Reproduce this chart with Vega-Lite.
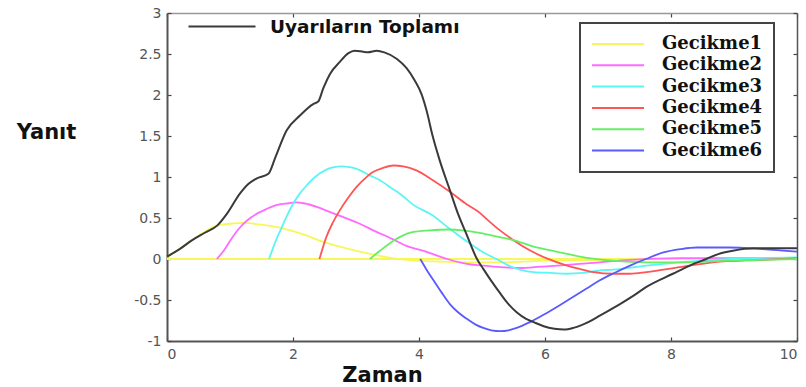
{
  "$schema": "https://vega.github.io/schema/vega-lite/v6.json",
  "width": 630,
  "height": 328,
  "autosize": {"type": "none"},
  "padding": {"left": 167, "top": 13, "right": 9, "bottom": 46},
  "background": "white",
  "config": {
    "view": {"stroke": null},
    "axis": {"grid": false, "labelFont": "DejaVu Sans", "labelFontSize": 14, "labelColor": "#555", "domainColor": "#555", "domainWidth": 2, "tickColor": "#444", "tickWidth": 1.2, "tickSize": -4, "labelPadding": 10},
    "legend": {"strokeWidth": 2},
    "line": {"interpolate": "monotone"}
  },
  "datasets": {
    "d": [
      {"s": "taban", "t": 0, "y": 0}, {"s": "taban", "t": 10, "y": 0},

      {"s": "Gecikme1", "t": 0, "y": 0.02}, {"s": "Gecikme1", "t": 0.4, "y": 0.23}, {"s": "Gecikme1", "t": 0.8, "y": 0.41}, {"s": "Gecikme1", "t": 1.0, "y": 0.43}, {"s": "Gecikme1", "t": 1.21, "y": 0.44}, {"s": "Gecikme1", "t": 1.48, "y": 0.42}, {"s": "Gecikme1", "t": 1.75, "y": 0.39}, {"s": "Gecikme1", "t": 2.0, "y": 0.34}, {"s": "Gecikme1", "t": 2.2, "y": 0.29}, {"s": "Gecikme1", "t": 2.4, "y": 0.23}, {"s": "Gecikme1", "t": 2.7, "y": 0.16}, {"s": "Gecikme1", "t": 3.06, "y": 0.09}, {"s": "Gecikme1", "t": 3.3, "y": 0.05}, {"s": "Gecikme1", "t": 3.5, "y": 0.02}, {"s": "Gecikme1", "t": 3.8, "y": -0.01}, {"s": "Gecikme1", "t": 4.2, "y": -0.03}, {"s": "Gecikme1", "t": 4.8, "y": -0.04}, {"s": "Gecikme1", "t": 5.4, "y": -0.04}, {"s": "Gecikme1", "t": 6.0, "y": -0.02}, {"s": "Gecikme1", "t": 7.0, "y": -0.01}, {"s": "Gecikme1", "t": 8.0, "y": 0}, {"s": "Gecikme1", "t": 10, "y": 0},

      {"s": "Gecikme2", "t": 0.79, "y": 0}, {"s": "Gecikme2", "t": 0.9, "y": 0.1}, {"s": "Gecikme2", "t": 1.0, "y": 0.22}, {"s": "Gecikme2", "t": 1.13, "y": 0.36}, {"s": "Gecikme2", "t": 1.27, "y": 0.47}, {"s": "Gecikme2", "t": 1.42, "y": 0.55}, {"s": "Gecikme2", "t": 1.58, "y": 0.61}, {"s": "Gecikme2", "t": 1.75, "y": 0.66}, {"s": "Gecikme2", "t": 1.93, "y": 0.68}, {"s": "Gecikme2", "t": 2.05, "y": 0.69}, {"s": "Gecikme2", "t": 2.17, "y": 0.68}, {"s": "Gecikme2", "t": 2.4, "y": 0.63}, {"s": "Gecikme2", "t": 2.53, "y": 0.59}, {"s": "Gecikme2", "t": 2.8, "y": 0.51}, {"s": "Gecikme2", "t": 3.06, "y": 0.43}, {"s": "Gecikme2", "t": 3.3, "y": 0.34}, {"s": "Gecikme2", "t": 3.59, "y": 0.24}, {"s": "Gecikme2", "t": 3.8, "y": 0.16}, {"s": "Gecikme2", "t": 4.02, "y": 0.11}, {"s": "Gecikme2", "t": 4.22, "y": 0.06}, {"s": "Gecikme2", "t": 4.45, "y": 0.0}, {"s": "Gecikme2", "t": 4.76, "y": -0.06}, {"s": "Gecikme2", "t": 5.0, "y": -0.08}, {"s": "Gecikme2", "t": 5.29, "y": -0.1}, {"s": "Gecikme2", "t": 5.65, "y": -0.11}, {"s": "Gecikme2", "t": 5.82, "y": -0.1}, {"s": "Gecikme2", "t": 6.2, "y": -0.08}, {"s": "Gecikme2", "t": 6.55, "y": -0.06}, {"s": "Gecikme2", "t": 6.87, "y": -0.04}, {"s": "Gecikme2", "t": 7.35, "y": -0.01}, {"s": "Gecikme2", "t": 8.14, "y": 0.01}, {"s": "Gecikme2", "t": 10, "y": 0.01},

      {"s": "Gecikme3", "t": 1.62, "y": 0}, {"s": "Gecikme3", "t": 1.7, "y": 0.17}, {"s": "Gecikme3", "t": 1.8, "y": 0.35}, {"s": "Gecikme3", "t": 1.9, "y": 0.52}, {"s": "Gecikme3", "t": 2.0, "y": 0.67}, {"s": "Gecikme3", "t": 2.11, "y": 0.8}, {"s": "Gecikme3", "t": 2.22, "y": 0.9}, {"s": "Gecikme3", "t": 2.35, "y": 1.0}, {"s": "Gecikme3", "t": 2.53, "y": 1.09}, {"s": "Gecikme3", "t": 2.65, "y": 1.12}, {"s": "Gecikme3", "t": 2.77, "y": 1.13}, {"s": "Gecikme3", "t": 2.9, "y": 1.12}, {"s": "Gecikme3", "t": 3.01, "y": 1.1}, {"s": "Gecikme3", "t": 3.22, "y": 1.02}, {"s": "Gecikme3", "t": 3.38, "y": 0.96}, {"s": "Gecikme3", "t": 3.59, "y": 0.85}, {"s": "Gecikme3", "t": 3.69, "y": 0.8}, {"s": "Gecikme3", "t": 3.91, "y": 0.66}, {"s": "Gecikme3", "t": 4.22, "y": 0.53}, {"s": "Gecikme3", "t": 4.45, "y": 0.39}, {"s": "Gecikme3", "t": 4.75, "y": 0.22}, {"s": "Gecikme3", "t": 4.96, "y": 0.11}, {"s": "Gecikme3", "t": 5.07, "y": 0.06}, {"s": "Gecikme3", "t": 5.23, "y": 0.0}, {"s": "Gecikme3", "t": 5.45, "y": -0.09}, {"s": "Gecikme3", "t": 5.82, "y": -0.16}, {"s": "Gecikme3", "t": 6.1, "y": -0.17}, {"s": "Gecikme3", "t": 6.35, "y": -0.18}, {"s": "Gecikme3", "t": 6.6, "y": -0.17}, {"s": "Gecikme3", "t": 6.87, "y": -0.14}, {"s": "Gecikme3", "t": 7.08, "y": -0.13}, {"s": "Gecikme3", "t": 7.61, "y": -0.08}, {"s": "Gecikme3", "t": 8.14, "y": -0.04}, {"s": "Gecikme3", "t": 8.93, "y": 0.0}, {"s": "Gecikme3", "t": 10, "y": 0.02},

      {"s": "Gecikme4", "t": 2.42, "y": 0}, {"s": "Gecikme4", "t": 2.53, "y": 0.27}, {"s": "Gecikme4", "t": 2.63, "y": 0.44}, {"s": "Gecikme4", "t": 2.74, "y": 0.59}, {"s": "Gecikme4", "t": 2.87, "y": 0.74}, {"s": "Gecikme4", "t": 3.01, "y": 0.88}, {"s": "Gecikme4", "t": 3.14, "y": 0.98}, {"s": "Gecikme4", "t": 3.27, "y": 1.06}, {"s": "Gecikme4", "t": 3.43, "y": 1.11}, {"s": "Gecikme4", "t": 3.59, "y": 1.14}, {"s": "Gecikme4", "t": 3.75, "y": 1.13}, {"s": "Gecikme4", "t": 3.96, "y": 1.08}, {"s": "Gecikme4", "t": 4.22, "y": 0.96}, {"s": "Gecikme4", "t": 4.49, "y": 0.82}, {"s": "Gecikme4", "t": 4.75, "y": 0.67}, {"s": "Gecikme4", "t": 4.97, "y": 0.56}, {"s": "Gecikme4", "t": 5.07, "y": 0.49}, {"s": "Gecikme4", "t": 5.25, "y": 0.37}, {"s": "Gecikme4", "t": 5.5, "y": 0.23}, {"s": "Gecikme4", "t": 5.75, "y": 0.11}, {"s": "Gecikme4", "t": 6.02, "y": 0.01}, {"s": "Gecikme4", "t": 6.35, "y": -0.08}, {"s": "Gecikme4", "t": 6.55, "y": -0.12}, {"s": "Gecikme4", "t": 6.77, "y": -0.16}, {"s": "Gecikme4", "t": 7.08, "y": -0.18}, {"s": "Gecikme4", "t": 7.35, "y": -0.18}, {"s": "Gecikme4", "t": 7.61, "y": -0.16}, {"s": "Gecikme4", "t": 8.14, "y": -0.1}, {"s": "Gecikme4", "t": 8.67, "y": -0.04}, {"s": "Gecikme4", "t": 9.46, "y": -0.01}, {"s": "Gecikme4", "t": 10, "y": 0.01},

      {"s": "Gecikme5", "t": 3.22, "y": 0}, {"s": "Gecikme5", "t": 3.38, "y": 0.1}, {"s": "Gecikme5", "t": 3.59, "y": 0.22}, {"s": "Gecikme5", "t": 3.7, "y": 0.27}, {"s": "Gecikme5", "t": 3.91, "y": 0.33}, {"s": "Gecikme5", "t": 4.17, "y": 0.35}, {"s": "Gecikme5", "t": 4.45, "y": 0.36}, {"s": "Gecikme5", "t": 4.7, "y": 0.35}, {"s": "Gecikme5", "t": 4.96, "y": 0.32}, {"s": "Gecikme5", "t": 5.2, "y": 0.28}, {"s": "Gecikme5", "t": 5.5, "y": 0.23}, {"s": "Gecikme5", "t": 5.82, "y": 0.15}, {"s": "Gecikme5", "t": 6.18, "y": 0.09}, {"s": "Gecikme5", "t": 6.55, "y": 0.03}, {"s": "Gecikme5", "t": 7.08, "y": -0.02}, {"s": "Gecikme5", "t": 7.61, "y": -0.04}, {"s": "Gecikme5", "t": 8.14, "y": -0.04}, {"s": "Gecikme5", "t": 8.93, "y": -0.02}, {"s": "Gecikme5", "t": 10, "y": 0.0},

      {"s": "Gecikme6", "t": 4.02, "y": 0}, {"s": "Gecikme6", "t": 4.12, "y": -0.13}, {"s": "Gecikme6", "t": 4.23, "y": -0.26}, {"s": "Gecikme6", "t": 4.36, "y": -0.41}, {"s": "Gecikme6", "t": 4.49, "y": -0.55}, {"s": "Gecikme6", "t": 4.62, "y": -0.65}, {"s": "Gecikme6", "t": 4.76, "y": -0.73}, {"s": "Gecikme6", "t": 4.9, "y": -0.8}, {"s": "Gecikme6", "t": 5.02, "y": -0.84}, {"s": "Gecikme6", "t": 5.15, "y": -0.87}, {"s": "Gecikme6", "t": 5.29, "y": -0.88}, {"s": "Gecikme6", "t": 5.42, "y": -0.87}, {"s": "Gecikme6", "t": 5.55, "y": -0.84}, {"s": "Gecikme6", "t": 5.76, "y": -0.77}, {"s": "Gecikme6", "t": 6.0, "y": -0.67}, {"s": "Gecikme6", "t": 6.24, "y": -0.56}, {"s": "Gecikme6", "t": 6.45, "y": -0.46}, {"s": "Gecikme6", "t": 6.66, "y": -0.36}, {"s": "Gecikme6", "t": 6.87, "y": -0.26}, {"s": "Gecikme6", "t": 7.1, "y": -0.17}, {"s": "Gecikme6", "t": 7.35, "y": -0.08}, {"s": "Gecikme6", "t": 7.6, "y": 0.0}, {"s": "Gecikme6", "t": 7.88, "y": 0.08}, {"s": "Gecikme6", "t": 8.15, "y": 0.12}, {"s": "Gecikme6", "t": 8.41, "y": 0.14}, {"s": "Gecikme6", "t": 8.93, "y": 0.14}, {"s": "Gecikme6", "t": 9.46, "y": 0.12}, {"s": "Gecikme6", "t": 10, "y": 0.09},

      {"s": "Uyarıların Toplamı", "t": 0, "y": 0.03}, {"s": "Uyarıların Toplamı", "t": 0.2, "y": 0.12}, {"s": "Uyarıların Toplamı", "t": 0.4, "y": 0.23}, {"s": "Uyarıların Toplamı", "t": 0.6, "y": 0.32}, {"s": "Uyarıların Toplamı", "t": 0.8, "y": 0.41}, {"s": "Uyarıların Toplamı", "t": 0.95, "y": 0.55}, {"s": "Uyarıların Toplamı", "t": 1.16, "y": 0.8}, {"s": "Uyarıların Toplamı", "t": 1.3, "y": 0.92}, {"s": "Uyarıların Toplamı", "t": 1.42, "y": 0.98}, {"s": "Uyarıların Toplamı", "t": 1.61, "y": 1.04}, {"s": "Uyarıların Toplamı", "t": 1.72, "y": 1.24}, {"s": "Uyarıların Toplamı", "t": 1.9, "y": 1.57}, {"s": "Uyarıların Toplamı", "t": 2.11, "y": 1.75}, {"s": "Uyarıların Toplamı", "t": 2.32, "y": 1.89}, {"s": "Uyarıların Toplamı", "t": 2.4, "y": 1.92}, {"s": "Uyarıların Toplamı", "t": 2.48, "y": 2.08}, {"s": "Uyarıların Toplamı", "t": 2.59, "y": 2.26}, {"s": "Uyarıların Toplamı", "t": 2.74, "y": 2.4}, {"s": "Uyarıların Toplamı", "t": 2.88, "y": 2.51}, {"s": "Uyarıların Toplamı", "t": 2.98, "y": 2.54}, {"s": "Uyarıların Toplamı", "t": 3.1, "y": 2.53}, {"s": "Uyarıların Toplamı", "t": 3.19, "y": 2.52}, {"s": "Uyarıların Toplamı", "t": 3.33, "y": 2.54}, {"s": "Uyarıların Toplamı", "t": 3.45, "y": 2.52}, {"s": "Uyarıların Toplamı", "t": 3.65, "y": 2.44}, {"s": "Uyarıların Toplamı", "t": 3.8, "y": 2.33}, {"s": "Uyarıların Toplamı", "t": 3.93, "y": 2.18}, {"s": "Uyarıların Toplamı", "t": 4.04, "y": 2.01}, {"s": "Uyarıların Toplamı", "t": 4.12, "y": 1.81}, {"s": "Uyarıların Toplamı", "t": 4.22, "y": 1.49}, {"s": "Uyarıların Toplamı", "t": 4.33, "y": 1.2}, {"s": "Uyarıların Toplamı", "t": 4.49, "y": 0.84}, {"s": "Uyarıların Toplamı", "t": 4.62, "y": 0.55}, {"s": "Uyarıların Toplamı", "t": 4.75, "y": 0.31}, {"s": "Uyarıların Toplamı", "t": 4.92, "y": 0.0}, {"s": "Uyarıların Toplamı", "t": 5.02, "y": -0.12}, {"s": "Uyarıların Toplamı", "t": 5.15, "y": -0.27}, {"s": "Uyarıların Toplamı", "t": 5.29, "y": -0.42}, {"s": "Uyarıların Toplamı", "t": 5.42, "y": -0.55}, {"s": "Uyarıların Toplamı", "t": 5.55, "y": -0.65}, {"s": "Uyarıların Toplamı", "t": 5.7, "y": -0.73}, {"s": "Uyarıların Toplamı", "t": 5.82, "y": -0.77}, {"s": "Uyarıların Toplamı", "t": 5.98, "y": -0.82}, {"s": "Uyarıların Toplamı", "t": 6.15, "y": -0.85}, {"s": "Uyarıların Toplamı", "t": 6.3, "y": -0.86}, {"s": "Uyarıların Toplamı", "t": 6.45, "y": -0.84}, {"s": "Uyarıların Toplamı", "t": 6.71, "y": -0.76}, {"s": "Uyarıların Toplamı", "t": 6.87, "y": -0.69}, {"s": "Uyarıların Toplamı", "t": 7.19, "y": -0.55}, {"s": "Uyarıların Toplamı", "t": 7.4, "y": -0.45}, {"s": "Uyarıların Toplamı", "t": 7.61, "y": -0.34}, {"s": "Uyarıların Toplamı", "t": 8.03, "y": -0.18}, {"s": "Uyarıların Toplamı", "t": 8.3, "y": -0.08}, {"s": "Uyarıların Toplamı", "t": 8.56, "y": 0.0}, {"s": "Uyarıların Toplamı", "t": 8.75, "y": 0.06}, {"s": "Uyarıların Toplamı", "t": 8.98, "y": 0.1}, {"s": "Uyarıların Toplamı", "t": 9.3, "y": 0.13}, {"s": "Uyarıların Toplamı", "t": 9.6, "y": 0.13}, {"s": "Uyarıların Toplamı", "t": 10, "y": 0.13}
    ]
  },
  "data": {"name": "d"},
  "resolve": {"scale": {"color": "independent"}, "axis": {"x": "independent", "y": "independent"}},
  "layer": [
    {
      "transform": [{"filter": "datum.s === 'taban'"}],
      "mark": {"type": "line", "color": "#f7f75a", "strokeWidth": 2.2, "interpolate": "linear"},
      "encoding": {
        "x": {"field": "t", "type": "quantitative", "scale": {"domain": [0, 10], "nice": false},
          "axis": {"orient": "bottom", "values": [0, 2, 4, 6, 8, 10], "title": "Zaman", "titleFont": "DejaVu Sans", "titleFontWeight": "bold", "titleFontSize": 21, "titleColor": "#111", "titleX": 215, "titleY": 40, "titleAlign": "center", "titleBaseline": "alphabetic"}},
        "y": {"field": "y", "type": "quantitative", "scale": {"domain": [-1, 3], "nice": false},
          "axis": {"orient": "left", "values": [-1, -0.5, 0, 0.5, 1, 1.5, 2, 2.5, 3], "labelExpr": "replace(format(datum.value, '~g'), '\u2212', '-')", "title": "Yanıt", "titleAngle": 0, "titleFont": "DejaVu Sans", "titleFontWeight": "bold", "titleFontSize": 21, "titleColor": "#111", "titleX": -121, "titleY": 125, "titleAlign": "center", "titleBaseline": "alphabetic"}}
      }
    },
    {
      "transform": [{"filter": "datum.s !== 'taban' && datum.s !== 'Uyarıların Toplamı'"}],
      "mark": {"type": "line", "strokeWidth": 1.8},
      "encoding": {
        "x": {"field": "t", "type": "quantitative", "axis": {"orient": "top", "values": [0, 2, 4, 6, 8, 10], "labels": false, "title": null, "domainColor": "#999", "domainWidth": 1.5}},
        "y": {"field": "y", "type": "quantitative", "axis": {"orient": "right", "values": [-1, -0.5, 0, 0.5, 1, 1.5, 2, 2.5, 3], "labels": false, "title": null, "domainWidth": 1.5}},
        "color": {"field": "s", "type": "nominal", "title": null,
          "scale": {"domain": ["Gecikme1", "Gecikme2", "Gecikme3", "Gecikme4", "Gecikme5", "Gecikme6"], "range": ["#f7f75a", "#ff6bff", "#5cf5f5", "#ff5555", "#66ee66", "#5a5aff"]},
          "legend": {"orient": "none", "legendX": 413, "legendY": 10, "padding": 11, "strokeColor": "#444", "fillColor": "white", "symbolType": "stroke", "symbolSize": 2704, "symbolStrokeWidth": 2, "clipHeight": 20, "labelFont": "DejaVu Serif", "labelFontWeight": "bold", "labelFontSize": 18, "labelColor": "#111", "labelOffset": 17, "rowPadding": 1.3, "labelLimit": 300}}
      }
    },
    {
      "transform": [{"filter": "datum.s === 'Uyarıların Toplamı'"}],
      "mark": {"type": "line", "strokeWidth": 2},
      "encoding": {
        "x": {"field": "t", "type": "quantitative", "axis": null},
        "y": {"field": "y", "type": "quantitative", "axis": null},
        "color": {"field": "s", "type": "nominal", "title": null,
          "scale": {"domain": ["Uyarıların Toplamı"], "range": ["#3a3a3a"]},
          "legend": {"orient": "none", "legendX": 20, "legendY": 4, "padding": 0, "strokeColor": null, "symbolType": "stroke", "symbolSize": 4489, "symbolStrokeWidth": 2.2, "clipHeight": 19, "labelFont": "DejaVu Sans", "labelFontWeight": "bold", "labelFontSize": 18.5, "labelColor": "#111", "labelOffset": 13, "labelLimit": 400}}
      }
    }
  ]
}
